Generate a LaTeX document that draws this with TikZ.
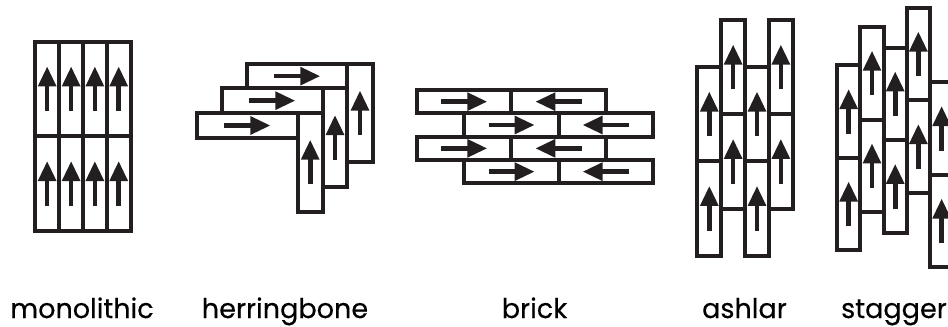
\documentclass[tikz,border=0pt]{standalone}
\usepackage{fontspec}
\setmainfont{Poppins}[FakeBold=0.35]
\usetikzlibrary{arrows.meta}
\definecolor{ink}{RGB}{35,31,32}
\tikzset{
  x=0.75pt,y=-0.75pt,
  brickbox/.style={draw=ink,line width=3.2pt,fill=white,line join=miter},
  flow/.style={draw=ink,line width=3.5pt,-{Triangle[length=15pt,width=13pt,fill=ink]},shorten >=-0.1pt},
  caption/.style={anchor=base,text=black,font=\fontsize{20.3pt}{22pt}\selectfont}
}
\newcommand{\upbrick}[4]{% x0,x1,ytop,ybot
  \draw[brickbox] (#1,#3) rectangle (#2,#4);
  \draw[flow] ({(#1+#2)/2},{(#3+#4)/2+22}) -- ({(#1+#2)/2},{(#3+#4)/2-22.5});
}
\newcommand{\hbrick}[5]{% x0,x1,ytop,ybot,dir(+1/-1)
  \draw[brickbox] (#1,#3) rectangle (#2,#4);
  \draw[flow] ({(#1+#2)/2-#5*23},{(#3+#4)/2}) -- ({(#1+#2)/2+#5*23},{(#3+#4)/2});
}
\begin{document}
\begin{tikzpicture}
\useasboundingbox (0,0) rectangle (948,326);
% monolithic
\foreach \a/\b in {35/59.3,59.3/83,83/106.7,106.7/130.7}{
  \upbrick{\a}{\b}{41.7}{136.3}
  \upbrick{\a}{\b}{136.3}{231}
}
% herringbone
\hbrick{247}{347.3}{64}{88.3}{1}
\upbrick{347.3}{372.7}{64}{162.3}
\hbrick{221.7}{322.7}{88.3}{113}{1}
\upbrick{322.7}{347.3}{88.3}{187}
\hbrick{197}{297.7}{113}{138}{1}
\upbrick{297.7}{322.7}{113}{211.7}
% brick
\foreach \t/\b in {90/113.3,136.7/160}{
  \hbrick{417}{511.3}{\t}{\b}{1}
  \hbrick{511.3}{605.7}{\t}{\b}{-1}
}
\foreach \t/\b in {113.3/136.7,160/183.3}{
  \hbrick{464.3}{558.7}{\t}{\b}{1}
  \hbrick{558.7}{652.7}{\t}{\b}{-1}
}
% ashlar
\foreach \a/\b/\t/\m/\e in {697.3/721.3/67/161.3/255.7,721.3/745/20/114.3/208.7,745/769/67/161.3/255.7,769/792.7/20/114.3/208.7}{
  \upbrick{\a}{\b}{\t}{\m}
  \upbrick{\a}{\b}{\m}{\e}
}
% stagger
\foreach \a/\b/\t/\m/\e in {837/860.3/65.3/158/250.3,860.3/883.7/27/119.7/212.3,883.7/906.7/47.7/140.3/232.7,906.7/930/8/100.3/193,930/953.3/82.3/175/267.3}{
  \upbrick{\a}{\b}{\t}{\m}
  \upbrick{\a}{\b}{\m}{\e}
}
% captions
\node[caption] (monolithic) at (82,318) {monolithic};
\node[caption] (herringbone) at (285,318) {herringbone};
\node[caption] (brick) at (534.5,318) {brick};
\node[caption] (ashlar) at (744.5,318) {ashlar};
\node[caption] (stagger) at (894,318) {stagger};
\end{tikzpicture}
\end{document}
